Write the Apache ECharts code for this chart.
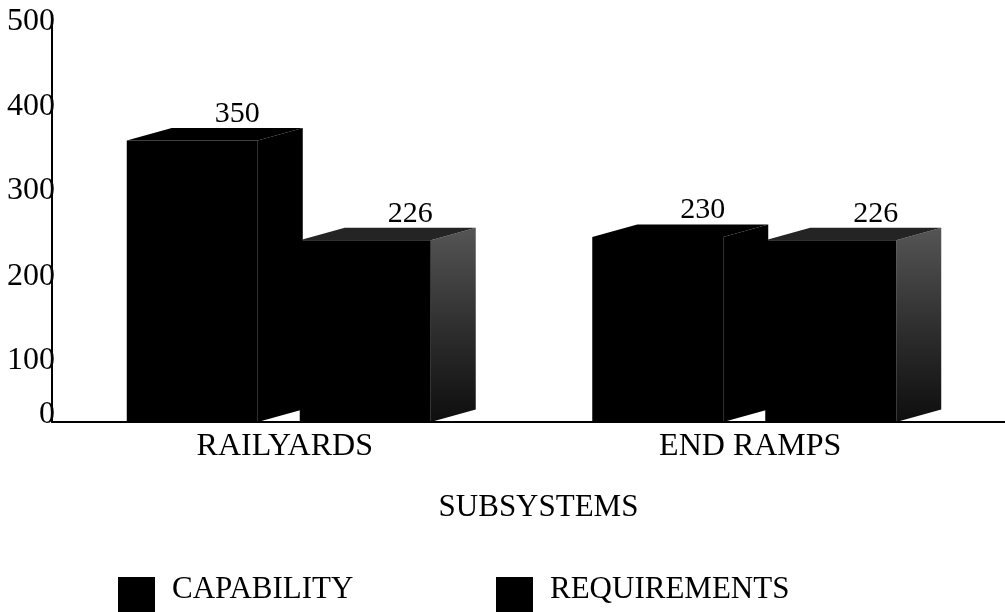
<!DOCTYPE html>
<html>
<head>
<meta charset="utf-8">
<script src="https://cdn.jsdelivr.net/npm/echarts@6/dist/echarts.min.js"></script>
<style>
html,body{margin:0;padding:0;background:#fff;}
#chart{width:1005px;height:612px;}
</style>
</head>
<body>
<div id="chart"></div>
<script>
const categories = ['RAILYARDS', 'END RAMPS'];
const capability = [350, 230];
const requirements = [226, 226];
const seriesNames = ['CAPABILITY', 'REQUIREMENTS'];
const axisName = 'SUBSYSTEMS';

const FONT = 'Liberation Serif';
const chart = echarts.init(document.getElementById('chart'), null, {renderer: 'canvas'});

function makeRender(kind) {
  return function (params, api) {
    const i = api.value(0);
    const v = api.value(1);
    const base = api.coord([i, 0]);
    const top = api.coord([i, v]);
    const band = api.size([1, 0])[0];
    const cx = base[0];
    let x0, x1;
    if (kind === 0) { x0 = cx - band * 0.3394; x1 = cx - band * 0.058; }
    else { x0 = cx + band * 0.0322; x1 = cx + band * 0.3136; }
    const dx = band * 0.0967;
    const dy = -dx * 0.28;
    const yB = base[1], yT = top[1];
    const frontFill = '#000';
    const topFill = kind === 0 ? '#000' : '#242424';
    const sideFill = kind === 0 ? '#000' : new echarts.graphic.LinearGradient(0, 0, 0, 1, [
      {offset: 0, color: '#555'}, {offset: 0.55, color: '#2c2c2c'}, {offset: 1, color: '#0e0e0e'}
    ]);
    return {
      type: 'group',
      children: [
        {type: 'polygon', shape: {points: [[x1, yT], [x1 + dx, yT + dy], [x1 + dx, yB + dy], [x1, yB]]}, style: {fill: sideFill}},
        {type: 'polygon', shape: {points: [[x0, yT], [x0 + dx, yT + dy], [x1 + dx, yT + dy], [x1, yT]]}, style: {fill: topFill}},
        {type: 'rect', shape: {x: x0, y: yT, width: x1 - x0, height: yB - yT}, style: {fill: frontFill}},
        {type: 'text', style: {text: String(v), x: (x0 + x1) / 2 + dx, y: yT + dy + 1, align: 'center', verticalAlign: 'bottom', fontSize: 30, fontFamily: FONT, fill: '#000'}}
      ]
    };
  };
}

const yShift = {0: -7, 100: 19, 200: 15, 300: 10, 400: 6, 500: 2};
const rich = {};
Object.keys(yShift).forEach(k => {
  const s = yShift[k];
  rich['s' + k] = {fontSize: 32, fontFamily: FONT, color: '#000',
    padding: s >= 0 ? [2 * s, 0, 0, 0] : [0, 0, -2 * s, 0]};
});

const legendBase = {top: 574, padding: 0, itemWidth: 37, itemHeight: 37, icon: 'rect',
  formatter: name => '{t|' + name + '}',
  textStyle: {fontSize: 31, fontFamily: FONT, color: '#000',
    rich: {t: {fontSize: 31, fontFamily: FONT, color: '#000', padding: [0, 0, 12, 12]}}}};

const option = {
  backgroundColor: '#fff',
  animation: false,
  grid: {left: 52, right: 22, top: 20, bottom: 190},
  legend: [
    Object.assign({data: [seriesNames[0]], left: 118}, legendBase),
    Object.assign({data: [seriesNames[1]], left: 496}, legendBase)
  ],
  xAxis: {
    type: 'category',
    data: categories,
    name: axisName,
    nameLocation: 'middle',
    nameGap: 70,
    nameTextStyle: {fontSize: 31, fontFamily: FONT, color: '#000', padding: [0, 0, 0, 42]},
    axisLine: {lineStyle: {color: '#000', width: 2}},
    axisTick: {show: false},
    axisLabel: {fontSize: 32, fontFamily: FONT, color: '#000', margin: 9}
  },
  yAxis: {
    type: 'value',
    min: 0, max: 500, interval: 100,
    axisLine: {show: true, lineStyle: {color: '#000', width: 2}},
    axisTick: {show: false},
    splitLine: {show: false},
    axisLabel: {margin: -3, fontSize: 32, fontFamily: FONT, color: '#000',
      formatter: v => '{s' + v + '|' + v + '}', rich: rich}
  },
  graphic: [
    {type: 'line', shape: {x1: 980, y1: 422, x2: 1005, y2: 422}, style: {stroke: '#000', lineWidth: 2}}
  ],
  series: [
    {name: seriesNames[0], type: 'custom', renderItem: makeRender(0), itemStyle: {color: '#000'},
     encode: {x: 0, y: 1}, data: capability.map((v, i) => [i, v])},
    {name: seriesNames[1], type: 'custom', renderItem: makeRender(1), itemStyle: {color: '#000'},
     encode: {x: 0, y: 1}, data: requirements.map((v, i) => [i, v])}
  ]
};
chart.setOption(option);
</script>
</body>
</html>
